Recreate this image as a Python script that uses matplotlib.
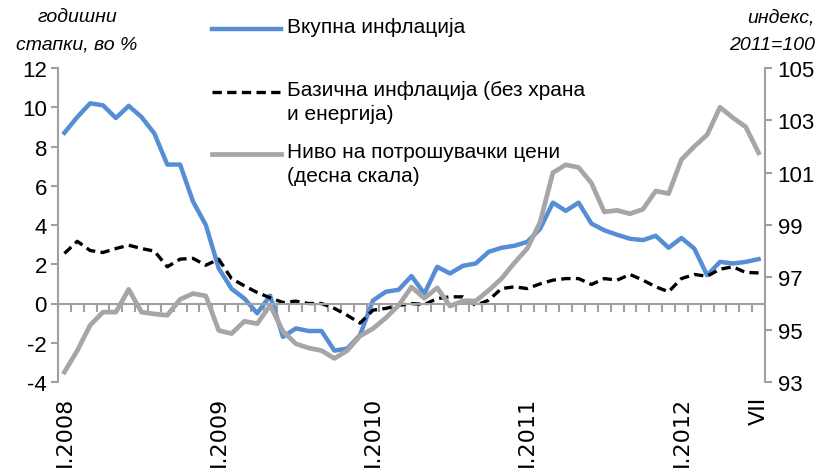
import numpy as np
import matplotlib
matplotlib.use("Agg")
import matplotlib.pyplot as plt
from matplotlib.lines import Line2D
from matplotlib.transforms import blended_transform_factory

plt.rcParams['font.family'] = ['Liberation Sans', 'DejaVu Sans']
plt.rcParams['axes.unicode_minus'] = False

# ---- data (monthly, I.2008 - VII.2012) ----
headline = [8.7, 9.5, 10.2, 10.1, 9.45, 10.07, 9.5, 8.66, 7.08, 7.08,
            5.2, 4.0, 1.8, 0.75, 0.25, -0.5, 0.4, -1.7, -1.27, -1.4,
            -1.4, -2.4, -2.3, -1.6, 0.15, 0.6, 0.7, 1.4, 0.5, 1.87,
            1.53, 1.92, 2.04, 2.63, 2.84, 2.94, 3.14, 3.8, 5.14, 4.72,
            5.14, 4.07, 3.73, 3.5, 3.3, 3.23, 3.45, 2.84, 3.34, 2.8,
            1.44, 2.12, 2.04, 2.12, 2.26]
core = [2.55, 3.17, 2.7, 2.6, 2.8, 2.97, 2.8, 2.67, 1.87, 2.26,
        2.3, 1.95, 2.26, 1.27, 0.9, 0.56, 0.29, 0.05, 0.12, 0.0,
        0.0, -0.25, -0.6, -1.0, -0.34, -0.25, -0.1, 0.0, -0.05, 0.25,
        0.34, 0.34, -0.1, 0.17, 0.76, 0.85, 0.76, 1.0, 1.19, 1.27,
        1.27, 0.97, 1.27, 1.19, 1.48, 1.19, 0.85, 0.6, 1.27, 1.48,
        1.39, 1.75, 1.87, 1.58, 1.56]
cpi_level = [93.38, 94.2, 95.17, 95.67, 95.67, 96.54, 95.67, 95.6, 95.55, 96.16,
             96.38, 96.29, 94.97, 94.85, 95.32, 95.23, 95.93, 94.94, 94.46, 94.3,
             94.2, 93.9, 94.2, 94.76, 95.04, 95.45, 95.93, 96.63, 96.2, 96.6,
             95.9, 96.1, 96.1, 96.5, 96.95, 97.55, 98.1, 99.1, 101.0, 101.3,
             101.2, 100.6, 99.5, 99.56, 99.43, 99.6, 100.3, 100.2, 101.5, 102.0,
             102.45, 103.5, 103.1, 102.75, 101.76]
tick_idx = [0, 12, 24, 36, 48, 54]
tick_labels = ["I.2008", "I.2009", "I.2010", "I.2011", "I.2012", "VII"]
legend_labels = ["Вкупна инфлација",
                 "Базична инфлација (без храна\nи енергија)",
                 "Ниво на потрошувачки цени\n(десна скала)"]

BLUE = "#558ED5"
GRAY = "#A6A6A6"
AXC = "#A0A0A0"
DASH = (0, (2.8, 1.6))

x = np.arange(len(headline))

fig = plt.figure(figsize=(8.3, 4.77), dpi=100)
ax = fig.add_axes([58 / 830, 1 - 383 / 477, (765 - 58) / 830, (383 - 69) / 477])
ax2 = ax.twinx()

ax.plot(x, headline, color=BLUE, lw=3.2, solid_joinstyle="round")
ax.plot(x, core, color="black", lw=2.4, ls=DASH)
ax2.plot(x, cpi_level, color=GRAY, lw=3.4, solid_joinstyle="round")

ax.set_xlim(-0.5, len(x) - 0.5)
ax.set_ylim(-4, 12)
ax.set_yticks(np.arange(-4, 13, 2))
ax2.set_ylim(93, 105)
ax2.set_yticks(np.arange(93, 106, 2))

for a in (ax, ax2):
    for s in a.spines.values():
        s.set_visible(False)
    a.tick_params(axis="y", colors=AXC, labelcolor="black", labelsize=16,
                  length=5, width=1.5)
for a, side in ((ax, "left"), (ax2, "right")):
    a.spines[side].set_visible(True)
    a.spines[side].set_color(AXC)
    a.spines[side].set_linewidth(1.5)
ax.spines["bottom"].set_visible(True)
ax.spines["bottom"].set_position(("data", 0))
ax.spines["bottom"].set_color(AXC)
ax.spines["bottom"].set_linewidth(1.5)
ax.set_xticks(np.arange(-0.5, len(x), 1))
ax.tick_params(axis="x", colors=AXC, length=6, width=1.5, labelbottom=False)
ax.tick_params(axis="y", pad=3)
ax2.tick_params(axis="y", pad=4)

tr = blended_transform_factory(ax.transData, ax.transAxes)
for i, lab in zip(tick_idx, tick_labels):
    ax.text(i, -0.045, lab, transform=tr, rotation=90, ha="center", va="top",
            fontsize=16, family="DejaVu Sans")

# axis unit titles
fig.text(77 / 830, 1 - 18 / 477, "годишни", style="italic", ha="center",
         va="center", fontsize=14)
fig.text(77 / 830, 1 - 45 / 477, "стапки, во %", style="italic", ha="center",
         va="center", fontsize=14)
fig.text(815 / 830, 1 - 18 / 477, "индекс,", style="italic", ha="right",
         va="center", fontsize=14)
fig.text(815 / 830, 1 - 45 / 477, "2011=100", style="italic", ha="right",
         va="center", fontsize=14)

# legend (drawn by hand, key aligned with first text line)
styles = [dict(color=BLUE, lw=3.2), dict(color="black", lw=2.4, ls=DASH),
          dict(color=GRAY, lw=3.4)]
key_y = [30, 93, 155]
for lab, st, yy in zip(legend_labels, styles, key_y):
    yf = 1 - yy / 477
    fig.add_artist(Line2D([212 / 830, 281 / 830], [yf, yf],
                          transform=fig.transFigure, **st))
    fig.text(287 / 830, yf + 12 / 477, lab, ha="left", va="top", fontsize=15,
             linespacing=1.3)

fig.savefig("out.png", dpi=100)
